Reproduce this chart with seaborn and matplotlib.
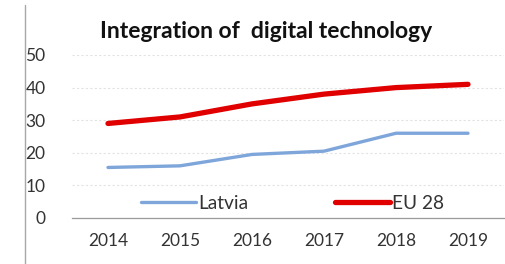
import numpy as np
import pandas as pd
import matplotlib
matplotlib.use("Agg")
import matplotlib.pyplot as plt
import seaborn as sns
from matplotlib.lines import Line2D

# data
years = ['2014', '2015', '2016', '2017', '2018', '2019']
latvia = [15.5, 16.0, 19.5, 20.5, 26.0, 26.0]
eu28 = [29.0, 31.0, 35.0, 38.0, 40.0, 41.0]
series_names = ['Latvia', 'EU 28']
title = 'Integration of  digital technology'

df = pd.DataFrame({
    'pos': list(range(len(years))) * 2,
    'value': latvia + eu28,
    'series': [series_names[0]] * len(years) + [series_names[1]] * len(years),
})

sns.set_theme(style='white')
plt.rcParams['font.family'] = ['Lato', 'DejaVu Sans']

fig = plt.figure(figsize=(5.05, 2.64), dpi=100)
ax = fig.add_axes([72 / 505, 46 / 264, 432 / 505, 163 / 264])

palette = {'Latvia': '#7FA6DA', 'EU 28': '#E00000'}
widths = [2.4, 3.8]
sns.lineplot(data=df, x='pos', y='value', hue='series', palette=palette,
             hue_order=series_names, ax=ax, legend=False)
for line, lw in zip(ax.get_lines(), widths):
    line.set_linewidth(lw)
    line.set_solid_capstyle('round')

ax.set_xlim(-0.5, len(years) - 0.5)
ax.set_ylim(0, 50)
ax.set_yticks(range(0, 51, 10))
ax.set_xticks(range(len(years)))
ax.set_xticklabels(years)
ax.set_xticks(np.arange(-0.5, len(years), 1.0), minor=True)
ax.tick_params(axis='x', which='major', length=0, pad=11, labelsize=12.5, colors='#333333')
ax.tick_params(axis='x', which='minor', length=5, width=0.8, color='#9a9a9a', direction='out')
ax.tick_params(axis='y', length=0, pad=19, labelsize=12.5, colors='#333333')
ax.set_xlabel('')
ax.set_ylabel('')

ax.yaxis.grid(True, color='#e2e2e2', linestyle=(0, (2, 2)), linewidth=0.8)
ax.xaxis.grid(False)
for s in ['top', 'right', 'left']:
    ax.spines[s].set_visible(False)
ax.spines['bottom'].set_color('#9a9a9a')
ax.spines['bottom'].set_linewidth(0.9)

handles = [Line2D([], [], color=palette[n], lw=w) for n, w in zip(series_names, widths)]
ax.legend(handles, series_names, loc='center', bbox_to_anchor=(0.51, 0.09), ncol=2,
          frameon=False, handlelength=2.9, handletextpad=0.1, columnspacing=4.5,
          fontsize=13.8, labelcolor='#333333')

fig.text(266 / 505, 1 - 32 / 264, title, ha='center', va='center',
         fontsize=16.5, fontweight='bold', color='#111111')

# thin border line on the left of the image
fig.add_artist(Line2D([25 / 505, 25 / 505], [0, 1 - 5 / 264], transform=fig.transFigure,
                      color='#a8a8a8', lw=1.0))

fig.savefig('out.png', dpi=100)
